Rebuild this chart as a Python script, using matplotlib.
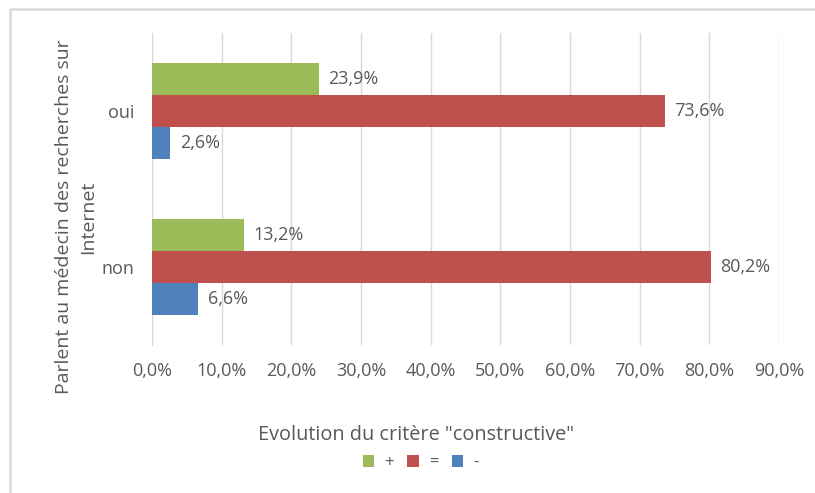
import matplotlib.pyplot as plt
from matplotlib.lines import Line2D
import numpy as np

plt.rcParams['font.family'] = ['Open Sans', 'DejaVu Sans']

# Données
categories = ["oui", "non"]
series = ["+", "=", "-"]
values_plus = [23.9, 13.2]
values_egal = [73.6, 80.2]
values_moins = [2.6, 6.6]
colors = ["#9BBB59", "#C0504D", "#4F81BD"]
xticks = [0, 10, 20, 30, 40, 50, 60, 70, 80, 90]

grey = "#595959"

fig = plt.figure(figsize=(8.15, 4.93), dpi=100)
ax = fig.add_axes([0.1865, 0.300, 0.7695, 0.633])

# bord du graphique (haut et gauche seulement, capture recadrée)
bx, by = 9.5 / 815, 1 - 8.5 / 493
fig.lines.append(Line2D([bx, bx, 1], [0, by, by], transform=fig.transFigure,
                        color="#D9D9D9", linewidth=1.8))

y = np.array([1, 0])  # oui en haut, non en bas
h = 0.205
all_vals = [values_plus, values_egal, values_moins]
for i, (vals, col, name) in enumerate(zip(all_vals, colors, series)):
    pos = y + h * (1 - i)
    bars = ax.barh(pos, vals, height=h, color=col, label=name, zorder=3)
    for b, v in zip(bars, vals):
        ax.annotate(f"{v:.1f}%".replace(".", ","),
                    (b.get_width(), b.get_y() + b.get_height() / 2),
                    xytext=(7, 0), textcoords="offset points",
                    va="center", ha="left", fontsize=13, color=grey)

ax.set_xlim(0, 90)
ax.set_ylim(-0.5, 1.5)
ax.set_xticks(xticks)
ax.set_xticklabels([f"{t:.1f}%".replace(".", ",") for t in xticks],
                   fontsize=13, color=grey)
ax.set_yticks(y)
ax.set_yticklabels(categories, fontsize=13, color=grey)
ax.tick_params(axis="both", length=0)
ax.tick_params(axis="x", pad=12)
ax.tick_params(axis="y", pad=13)
ax.grid(axis="x", color="#D9D9D9", linewidth=1, zorder=0)
for s in ["top", "right", "bottom"]:
    ax.spines[s].set_visible(False)
ax.spines["left"].set_color("#D9D9D9")

ax.set_xlabel('Evolution du critère "constructive"', fontsize=14.3,
              color=grey)
ax.xaxis.set_label_coords(0.421, -0.255)
ax.set_ylabel("Parlent au médecin des recherches sur\nInternet",
              fontsize=14, color=grey, linespacing=1.45)
ax.yaxis.set_label_coords(-0.121, 0.41)
ax.yaxis.label.set_va("center")

fig.legend(loc="center", bbox_to_anchor=(0.516, 0.061), ncol=3, frameon=False,
           fontsize=12, labelcolor=grey, handlelength=0.7, handleheight=0.7,
           handletextpad=0.6, columnspacing=0.8)

fig.savefig("out.png", dpi=100)
